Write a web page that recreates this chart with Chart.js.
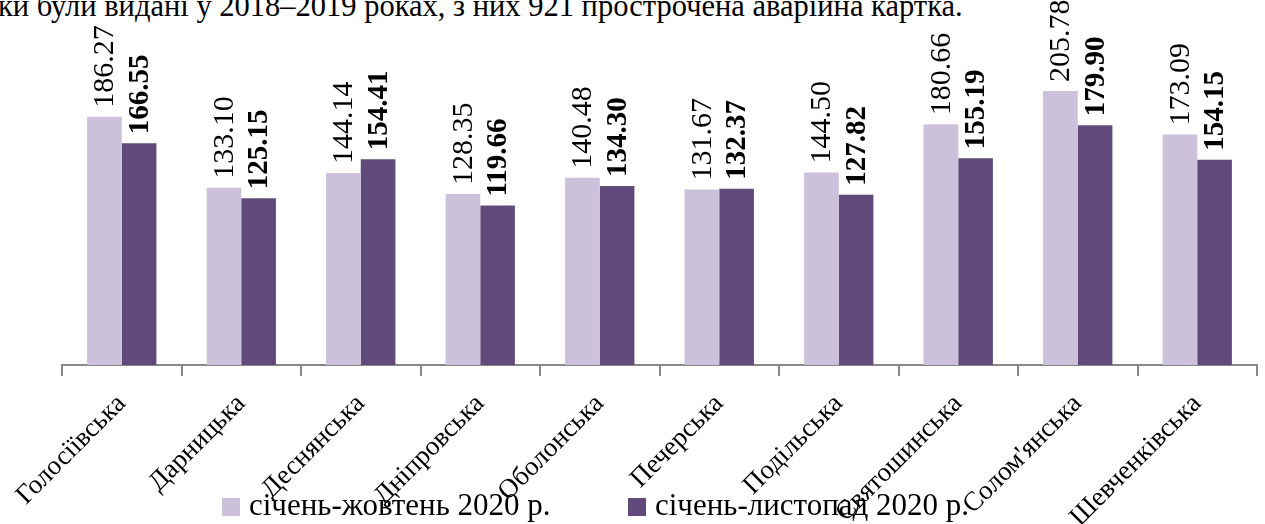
<!DOCTYPE html>
<html>
<head>
<meta charset="utf-8">
<script src="https://cdn.jsdelivr.net/npm/chart.js@4/dist/chart.umd.min.js"></script>
<style>
  html, body { margin: 0; padding: 0; background: #fff; overflow: hidden; }
  #wrap { position: relative; width: 1265px; height: 524px; }
  #intro { position: absolute; left: -2px; top: -9px; font: 30.5px/30px "Liberation Serif", "Times New Roman", serif; color: #000; white-space: nowrap; }
  canvas { position: absolute; left: 0; top: 0; }
</style>
</head>
<body>
<div id="wrap">
  <div id="intro">ки були видані у 2018–2019 роках, з них 921 прострочена аварійна картка.</div>
  <canvas id="chart" width="1265" height="524"></canvas>
</div>
<script>
const districts = ['Голосіївська', 'Дарницька', 'Деснянська', 'Дніпровська', 'Оболонська',
  'Печерська', 'Подільська', 'Святошинська', "Солом'янська", 'Шевченківська'];
const janOct = [186.27, 133.10, 144.14, 128.35, 140.48, 131.67, 144.50, 180.66, 205.78, 173.09];
const janNov = [166.55, 125.15, 154.41, 119.66, 134.30, 132.37, 127.82, 155.19, 179.90, 154.15];
const seriesNames = ['січень-жовтень 2020 р.', 'січень-листопад 2020 р.'];

const serif = '"Liberation Serif", "Times New Roman", serif';

// vertical value labels above each bar
const valueLabels = {
  id: 'valueLabels',
  afterDatasetsDraw(chart) {
    const ctx = chart.ctx;
    chart.data.datasets.forEach((ds, i) => {
      const meta = chart.getDatasetMeta(i);
      ctx.save();
      ctx.font = i === 1 ? 'bold 29px ' + serif : '30px ' + serif;
      ctx.fillStyle = '#000';
      ctx.textAlign = 'left';
      ctx.textBaseline = 'middle';
      meta.data.forEach((bar, j) => {
        ctx.save();
        ctx.translate(bar.x + 1, bar.y - 9);
        ctx.rotate(-Math.PI / 2);
        ctx.fillText(ds.data[j].toFixed(2), 0, 0);
        ctx.restore();
      });
      ctx.restore();
    });
  }
};

// legend drawn over the bottom, overlapping the axis labels like the original
const bottomLegend = {
  id: 'bottomLegend',
  afterDraw(chart) {
    const ctx = chart.ctx;
    const xs = [222, 628];
    ctx.save();
    ctx.font = '31px ' + serif;
    ctx.textBaseline = 'middle';
    ctx.textAlign = 'left';
    chart.data.datasets.forEach((ds, i) => {
      ctx.fillStyle = ds.backgroundColor;
      ctx.fillRect(xs[i], 498, 18, 18);
      ctx.fillStyle = '#000';
      ctx.fillText(ds.label, xs[i] + 27, 507);
    });
    ctx.restore();
  }
};

new Chart(document.getElementById('chart'), {
  type: 'bar',
  data: {
    labels: districts,
    datasets: [
      { label: seriesNames[0], data: janOct, backgroundColor: '#CCC1DA' },
      { label: seriesNames[1], data: janNov, backgroundColor: '#604A7B' }
    ]
  },
  options: {
    responsive: false,
    animation: false,
    layout: { padding: { left: 62, right: 8, top: 0, bottom: 0 } },
    datasets: { bar: { categoryPercentage: 0.58, barPercentage: 1 } },
    plugins: { legend: { display: false }, tooltip: { enabled: false } },
    scales: {
      x: {
        grid: { drawOnChartArea: false, drawTicks: true, tickLength: 11, offset: true, color: '#888', lineWidth: 2 },
        border: { color: '#888', width: 2 },
        ticks: {
          autoSkip: false, minRotation: 45, maxRotation: 45, padding: 12,
          color: '#000', font: { family: serif, size: 27 }
        },
        afterFit(scale) {
          scale.height = 159;
          scale.paddingLeft = 0;
          scale.paddingRight = 0;
        }
      },
      y: { display: false, min: 0, max: 274 }
    }
  },
  plugins: [valueLabels, bottomLegend]
});
</script>
</body>
</html>
